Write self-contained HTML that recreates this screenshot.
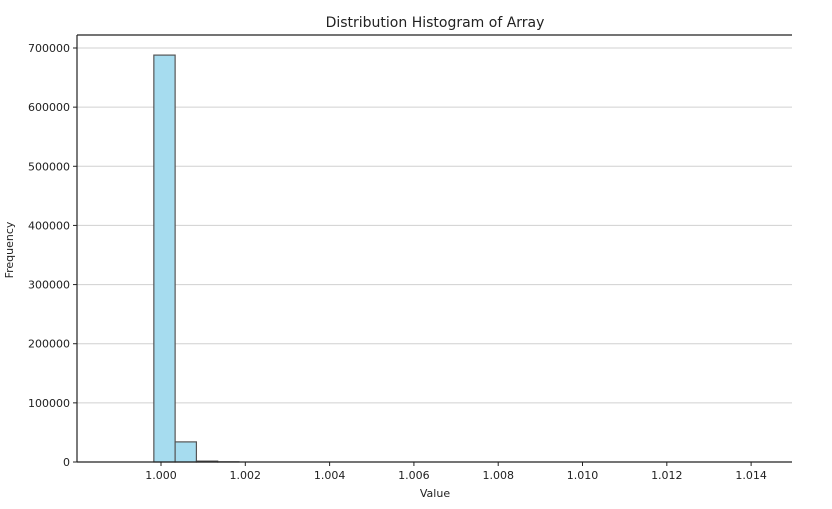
<!DOCTYPE html>
<html><head><meta charset="utf-8"><style>
body{margin:0;background:#fff;font-family:"DejaVu Sans","Liberation Sans",sans-serif;}
</style></head><body>
<svg width="832" height="505" id="chart">
<text x="435" y="27" text-anchor="middle" font-size="14" fill="#222">Distribution Histogram of Array</text>
<text x="435" y="497" text-anchor="middle" font-size="11" fill="#222">Value</text>
<text x="13" y="250" text-anchor="middle" font-size="11" fill="#222" transform="rotate(-90 13 250)">Frequency</text>
<g id="grid"></g><g id="bars"></g><g id="axes"></g>
</svg>
<script>
const binStarts=[0.99983,1.000335,1.00084,1.001345];
const binWidth=0.000505;
const counts=[688000,34000,1500,300];
const xTicks=[1.000,1.002,1.004,1.006,1.008,1.010,1.012,1.014];
const yTicks=[0,100000,200000,300000,400000,500000,600000,700000];
const L=77,R=792,T=35,B=462;
const xMin=0.998007,xMax=1.01497,yMax=700000,yTopPx=48;
const xs=v=>L+(v-xMin)/(xMax-xMin)*(R-L);
const ys=v=>B-v/yMax*(B-yTopPx);
const NS="http://www.w3.org/2000/svg";
function mk(t,a,p){const e=document.createElementNS(NS,t);for(const k in a)e.setAttribute(k,a[k]);p.appendChild(e);return e;}
const g=document.getElementById('grid'),b=document.getElementById('bars'),ax=document.getElementById('axes');
yTicks.forEach(v=>{
 const y=ys(v);
 const l=mk('line',{x1:L,x2:R,y1:y,y2:y,stroke:'#d0d0d0','stroke-width':1},g);
 
 
 mk('line',{x1:L-4,x2:L,y1:y,y2:y,stroke:'#222'},ax);
 const t=mk('text',{x:L-7,y:y+4,'text-anchor':'end','font-size':'11',fill:'#222'},ax);
 t.textContent=String(v);
 
 
});
counts.forEach((c,i)=>{
 const x0=xs(binStarts[i]),x1=xs(binStarts[i]+binWidth);
 const r=mk('rect',{x:x0,y:ys(c),width:x1-x0,height:B-ys(c),fill:'#a6dcef',stroke:'#555','stroke-width':1.2},b);
 
 
});
xTicks.forEach(v=>{
 const x=xs(v);
 mk('line',{x1:x,x2:x,y1:B,y2:B+4,stroke:'#222'},ax);
 const t=mk('text',{x:x,y:B+17,'text-anchor':'middle','font-size':'11',fill:'#222'},ax);
 t.textContent=v.toFixed(3);
 
 
});
mk('line',{x1:L,x2:R,y1:B,y2:B,stroke:'#222','stroke-width':1.2},ax);
mk('line',{x1:L,x2:L,y1:T,y2:B,stroke:'#222','stroke-width':1.2},ax);
mk('line',{x1:L,x2:R,y1:T,y2:T,stroke:'#222','stroke-width':1.2},ax);
</script>
</body></html>
